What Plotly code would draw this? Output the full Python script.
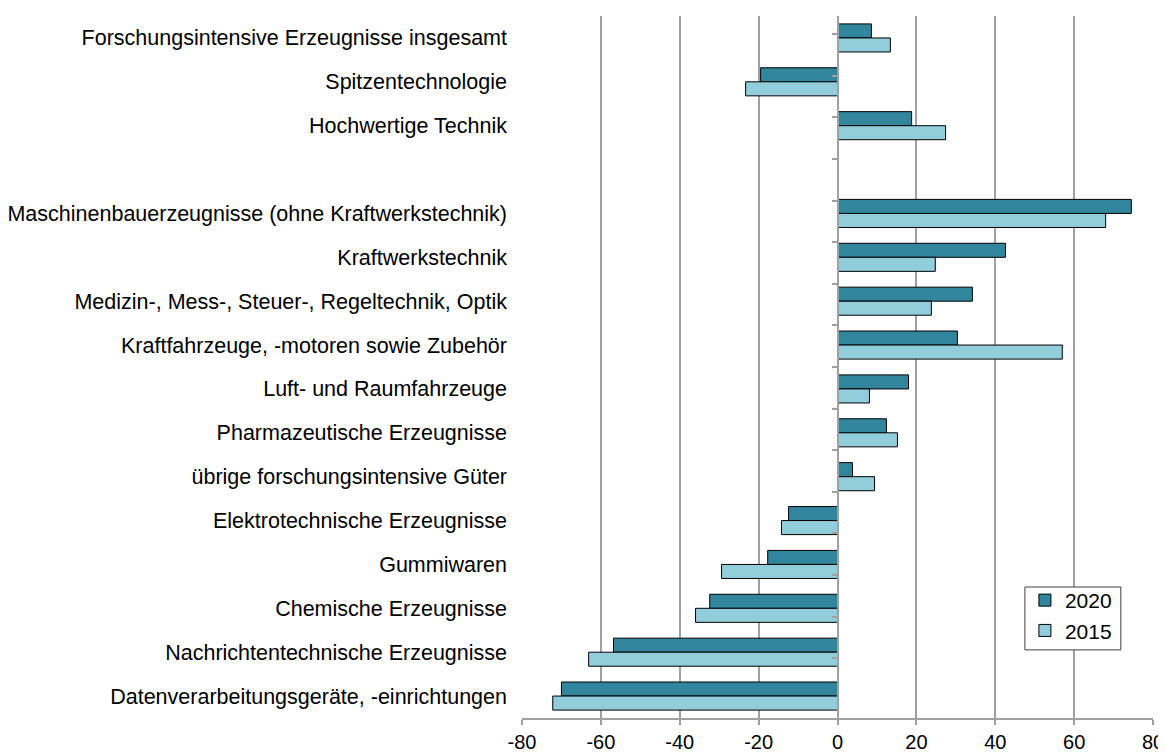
import plotly.graph_objects as go

categories = [
    "Forschungsintensive Erzeugnisse insgesamt",
    "Spitzentechnologie",
    "Hochwertige Technik",
    " ",
    "Maschinenbauerzeugnisse (ohne Kraftwerkstechnik)",
    "Kraftwerkstechnik",
    "Medizin-, Mess-, Steuer-, Regeltechnik, Optik",
    "Kraftfahrzeuge, -motoren sowie Zubehör",
    "Luft- und Raumfahrzeuge",
    "Pharmazeutische Erzeugnisse",
    "übrige forschungsintensive Güter",
    "Elektrotechnische Erzeugnisse",
    "Gummiwaren",
    "Chemische Erzeugnisse",
    "Nachrichtentechnische Erzeugnisse",
    "Datenverarbeitungsgeräte, -einrichtungen",
]
values_2020 = [8.6, -19.5, 18.8, None, 74.5, 42.6, 34.2, 30.4, 18.0, 12.4, 3.8, -12.4, -17.7, -32.4, -56.8, -70.0]
values_2015 = [13.4, -23.3, 27.4, None, 68.0, 24.8, 23.8, 57.0, 8.1, 15.2, 9.4, -14.2, -29.4, -36.0, -63.1, -72.2]
x_ticks = [-80, -60, -40, -20, 0, 20, 40, 60, 80]
x_tick_text = ["-80", "-60", "-40", "-20", "0", "20", "40", "60", "80"]

FONT = "Liberation Sans, Arial, sans-serif"
GRID = "#A0A0A0"

fig = go.Figure()
fig.add_trace(go.Bar(y=categories, x=values_2020, orientation="h", name="2020",
                     marker=dict(color="#31859C", line=dict(color="#000000", width=1))))
fig.add_trace(go.Bar(y=categories, x=values_2015, orientation="h", name="2015",
                     marker=dict(color="#92CDDC", line=dict(color="#000000", width=1))))
# dummy trace so that the zero-line axis with boundary ticks is drawn
fig.add_trace(go.Scatter(y=categories, x=[None] * len(categories), yaxis="y2",
                         showlegend=False, hoverinfo="skip", mode="markers"))

# legend frame
fig.add_shape(type="rect", xref="paper", yref="paper", x0=0.797, x1=0.949, y0=0.097, y1=0.1866,
              line=dict(color="#404040", width=1), fillcolor="white", layer="above")

fig.update_layout(
    width=1158, height=744,
    margin=dict(l=514, r=13, t=8, b=34),
    paper_bgcolor="white", plot_bgcolor="white",
    barmode="group", bargap=0.36, bargroupgap=0,
    font=dict(family=FONT, size=21, color="#000000"),
    xaxis=dict(range=[-80, 80], tickvals=x_ticks, ticktext=x_tick_text,
               showgrid=True, gridcolor=GRID, gridwidth=1.6,
               zeroline=False, showline=True, linecolor=GRID, linewidth=1.6,
               ticks="outside", ticklen=5, tickcolor=GRID, tickwidth=1.6,
               tickfont=dict(size=20), domain=[0, 1], automargin=False),
    yaxis=dict(type="category", categoryarray=categories, autorange="reversed",
               showgrid=False, zeroline=False, showline=False, ticks="",
               ticklabelstandoff=14, tickfont=dict(size=21.5), automargin=False),
    yaxis2=dict(type="category", categoryarray=categories, autorange="reversed",
                overlaying="y", anchor="free", position=0.5, side="left",
                showgrid=False, zeroline=False, showline=True, linecolor=GRID, linewidth=1.6,
                ticks="outside", ticklen=5, tickcolor=GRID, tickwidth=1.6,
                tickson="boundaries", showticklabels=False, automargin=False),
    legend=dict(x=0.797, y=0.1966, xanchor="left", yanchor="top",
                borderwidth=0, bgcolor="rgba(0,0,0,0)",
                font=dict(size=21), traceorder="normal", itemwidth=30,
                tracegroupgap=0),
    showlegend=True,
)

fig.write_html("out.html")
